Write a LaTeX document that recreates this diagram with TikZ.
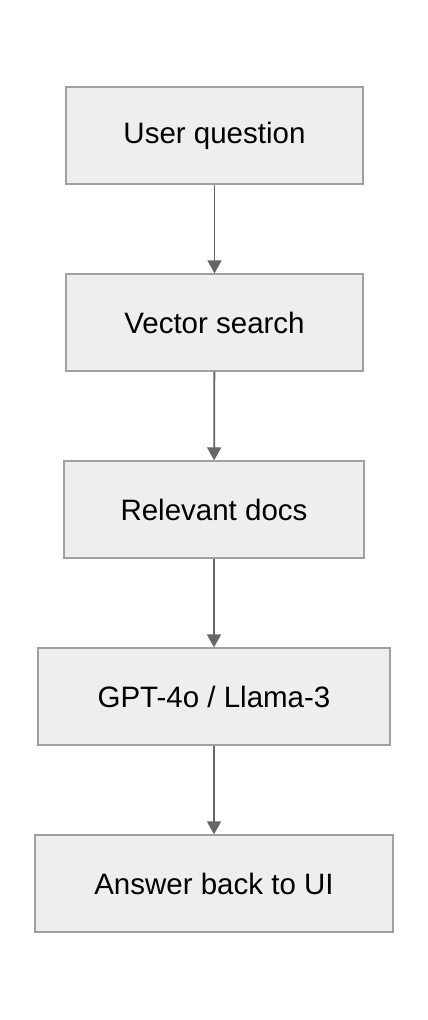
\documentclass[tikz,border=0pt]{standalone}
\usepackage{fontspec}
\setmainfont{Liberation Sans}
\usetikzlibrary{arrows.meta}
\definecolor{boxfill}{HTML}{EEEEEE}
\definecolor{boxline}{HTML}{A0A0A0}
\definecolor{arrowcol}{HTML}{666666}
\begin{document}
\begin{tikzpicture}[x=1pt,y=-1pt,
  stepbox/.style={draw=boxline, fill=boxfill, line width=1.3pt, inner sep=0pt, font=\fontsize{29.5}{34}\selectfont, text=black},
  conn/.style={draw=arrowcol, line width=1.8pt, -{Triangle[length=13pt,width=14pt]}}]
\useasboundingbox[fill=white] (0,0) rectangle (428,1020);
\node[stepbox, minimum width=297pt, minimum height=97pt] (a) at (214.5,135.5) {User question};
\node[stepbox, minimum width=297pt, minimum height=97pt] (b) at (214.5,322.5) {Vector search};
\node[stepbox, minimum width=300pt, minimum height=97pt] (c) at (214,509.5) {Relevant docs};
\node[stepbox, minimum width=352pt, minimum height=97pt] (d) at (214,696.5) {GPT-4o / Llama-3};
\node[stepbox, minimum width=358pt, minimum height=97pt] (e) at (214,883.5) {Answer back to UI};
\draw[conn] (a) -- (b);
\draw[conn] (b) -- (c);
\draw[conn] (c) -- (d);
\draw[conn] (d) -- (e);
\end{tikzpicture}
\end{document}
